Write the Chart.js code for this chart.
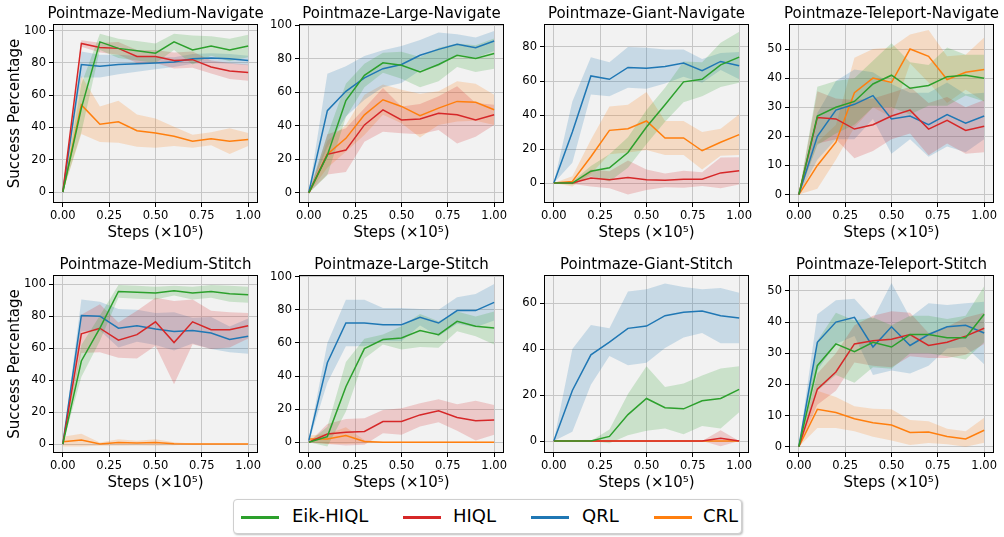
<!DOCTYPE html>
<html>
<head>
<meta charset="utf-8">
<script src="https://cdn.jsdelivr.net/npm/chart.js@4.4.1/dist/chart.umd.min.js"></script>
<style>
  body { margin: 0; background: #fff; font-family: "DejaVu Sans", sans-serif; }
  #wrap { position: relative; width: 1004px; height: 537px; overflow: hidden; }
  canvas { position: absolute; }
  #legend {
    position: absolute; left: 233px; top: 499px; width: 507px; height: 33px;
    border: 1px solid #cfcfcf; border-radius: 4px; background: #fff;
    box-shadow: 1px 1px 2px rgba(0,0,0,0.25);
  }
  .sw { position: absolute; top: 16px; width: 38px; height: 3px; }
  .lb { position: absolute; top: 4px; font-size: 18px; line-height: 24px; color: #000; }
</style>
</head>
<body>
<div id="wrap">
  <div id="legend"></div>
</div>
<script>
// x positions (steps x 1e5) and series
const steps = [0, 0.1, 0.2, 0.3, 0.4, 0.5, 0.6, 0.7, 0.8, 0.9, 1.0];
const methods = ['Eik-HIQL', 'HIQL', 'QRL', 'CRL'];
const lineColors = ['#2ca02c', '#d62728', '#1f77b4', '#ff7f0e'];
const bandColors = ['rgba(44,160,44,0.2)', 'rgba(214,39,40,0.2)', 'rgba(31,119,180,0.2)', 'rgba(255,127,14,0.2)'];
const xTicks = [0, 0.25, 0.5, 0.75, 1.0];

const titles = [
  'Pointmaze-Medium-Navigate', 'Pointmaze-Large-Navigate', 'Pointmaze-Giant-Navigate', 'Pointmaze-Teleport-Navigate',
  'Pointmaze-Medium-Stitch', 'Pointmaze-Large-Stitch', 'Pointmaze-Giant-Stitch', 'Pointmaze-Teleport-Stitch'
];

// rows: Eik-HIQL, HIQL, QRL, CRL
const medNavMean = [
  [0, 52, 93, 89, 87.5, 86, 93, 88, 90.5, 88, 90.5],
  [0, 92, 89.5, 89, 84, 84, 81.5, 82, 77.5, 75, 74],
  [0, 79, 78, 79, 79.5, 80, 80.5, 82.5, 83, 82.5, 81.5],
  [0, 54, 42, 43.5, 38, 36.5, 34.5, 31.5, 33, 31.5, 32.5]
];
const medNavSd = [
  [0, 15, 5, 6, 6, 6, 5, 9, 6, 7, 7],
  [0, 2, 3, 4, 4, 4, 5, 5, 4, 5, 5],
  [0, 8, 7, 6, 5, 4, 3, 3, 3, 3, 3],
  [0, 18, 11, 13, 10, 9, 6, 4, 4, 8, 4]
];

const largeNavMean = [
  [0, 22.5, 55, 70, 77.5, 76, 72, 76.5, 82, 80, 83],
  [0, 23, 25.5, 40.5, 49.5, 43.5, 44, 47.5, 46.5, 43.5, 46.5],
  [0.5, 49, 60.5, 68.5, 74, 76.5, 82, 85.5, 88.5, 86.5, 90.5],
  [0, 23, 32.5, 46.5, 55.5, 51.5, 46, 50.5, 54.5, 54, 49.5]
];
const largeNavSd = [
  [0, 12, 10, 7, 6, 8, 9, 10, 7, 8, 9],
  [0, 12, 13, 10, 13, 8, 9, 10, 17, 10, 6],
  [0, 22, 15, 13, 11, 11, 9, 10, 6, 6, 6],
  [0, 8, 8, 12, 9, 10, 13, 10, 12, 11, 9]
];

const giantNavMean = [
  [0, 0, 7, 9, 18, 33, 46, 59.5, 61, 69.5, 74],
  [0, 0, 3, 2, 3.3, 2, 1.6, 2.3, 2.3, 6, 7.2],
  [0, 30, 63, 61, 68, 67.5, 68.5, 70.5, 66, 71.5, 69],
  [0, 1, 15.5, 31, 32, 36.5, 26.5, 26.5, 19, 24, 28.5]
];
const giantNavSd = [
  [0, 1, 3, 8, 9, 10, 10, 12, 10, 13, 15],
  [0, 0.5, 5, 5, 10, 6, 4, 5, 4, 9, 8],
  [0, 18, 11, 10, 12, 12, 10, 8, 7, 5, 8],
  [0, 3, 10, 14, 14, 17, 10, 10, 11, 8, 12]
];

const teleNavMean = [
  [0, 27, 30, 32, 38, 41, 36.5, 37.5, 40.5, 41, 40],
  [0, 26.5, 26, 22.5, 24, 27, 29, 22.5, 25.5, 22, 23.5],
  [0, 20, 29, 31, 34, 26, 27, 24, 27.5, 24.5, 27],
  [0, 10, 18, 35, 40, 38.5, 50, 47.5, 39.5, 42, 43]
];
const teleNavSd = [
  [0, 10, 9, 8, 8, 11, 9, 7, 10, 7, 8],
  [0, 9, 7, 10, 9, 8, 8, 9, 8, 8, 9],
  [0, 8, 10, 12, 8, 12, 8, 11, 11, 10, 8],
  [0, 8, 6, 12, 10, 12, 5, 9, 8, 6, 11]
];

const medStitchMean = [
  [0, 52, 72.5, 95.5, 95, 94.5, 96, 94.5, 95.5, 94, 93.5],
  [0, 69, 72.5, 65, 68.5, 76.5, 63.5, 76.5, 71.5, 71.5, 74],
  [0, 80.5, 80, 72.5, 74, 72, 70.5, 71, 69.5, 65.5, 67.5],
  [1.5, 2.5, 0, 1, 0.6, 1, 0.2, 0, 0, 0, 0]
];
const medStitchSd = [
  [0, 10, 8, 4, 4, 4, 3, 4, 4, 5, 5],
  [0, 12, 15, 11, 15, 15, 26, 14, 12, 11, 8],
  [0, 10, 9, 12, 10, 10, 12, 8, 10, 8, 11],
  [3, 4, 1, 2, 1.5, 2, 1, 0.3, 0.3, 0.3, 0.3]
];

const largeStitchMean = [
  [0, 3.4, 33.5, 56.5, 62, 63, 67.5, 65, 73, 70, 69],
  [0, 5, 6, 6.5, 12.5, 12.5, 16.5, 19, 15, 13, 13.5],
  [1, 48, 72, 72, 71, 71, 75.5, 72, 79.5, 79.5, 84.5],
  [2, 2, 4, 0.4, 0, 0, 0, 0, 0, 0, 0]
];
const largeStitchSd = [
  [0, 6, 15, 6, 3, 7, 10, 8, 6, 6, 10],
  [0, 6, 8, 8, 7, 8, 7, 7, 8, 12, 9],
  [1, 12, 14, 14, 10, 10, 5, 8, 8, 10, 11],
  [2, 3, 5, 1, 0.3, 0.3, 0.3, 0.3, 0.5, 0.3, 0.3]
];

const giantStitchMean = [
  [0, 0, 0, 2, 11.5, 18.5, 14.5, 14, 17.5, 18.5, 22.5],
  [0, 0, 0, 0, 0, 0, 0, 0, 0, 1.2, 0],
  [0, 22, 37.5, 43, 49, 50, 54.5, 56, 56.5, 54.5, 53.5],
  [0, 0, 0, 0, 0, 0, 0, 0, 0, 0, 0]
];
const giantStitchSd = [
  [0, 0, 0, 3, 9, 14, 9, 11, 11, 13, 10],
  [0, 0, 0, 0, 0, 0, 0, 0, 0, 3.5, 0],
  [0, 18, 13, 6, 16, 16, 14, 11, 9.5, 12, 11],
  [0, 0, 0, 0, 0, 0, 0, 0, 0, 0, 0]
];

const teleStitchMean = [
  [0, 26, 33, 30.5, 33.5, 32, 36, 36, 35, 35, 42.5],
  [0, 18.5, 24, 33, 34, 34.5, 36, 32.5, 33.5, 35.5, 38],
  [0, 33.5, 40, 41.5, 32, 38.5, 32.5, 36, 38.5, 39, 36.5],
  [0, 12, 11, 9, 7.7, 7, 4.6, 4.7, 3.3, 2.5, 5.3]
];
const teleStitchSd = [
  [0, 8, 10, 10, 8, 7, 6, 6, 6, 7, 9],
  [0, 5, 6, 6, 8, 9, 7, 4, 5, 6, 5],
  [0, 9, 7, 6, 9, 14, 9, 10, 7, 7, 10],
  [0, 6, 5, 4, 4.5, 5, 4, 3.5, 2.5, 2.5, 4]
];

const yTicks100 = [0, 20, 40, 60, 80, 100];
const yTicks80 = [0, 20, 40, 60, 80];
const yTicks60 = [0, 20, 40, 60];
const yTicks50 = [0, 10, 20, 30, 40, 50];

const panels = [
  { mean: medNavMean, sd: medNavSd, ymin: -6.8, ymax: 104.1, ticks: yTicks100 },
  { mean: largeNavMean, sd: largeNavSd, ymin: -6, ymax: 100.6, ticks: yTicks100 },
  { mean: giantNavMean, sd: giantNavSd, ymin: -11.7, ymax: 93.5, ticks: yTicks80 },
  { mean: teleNavMean, sd: teleNavSd, ymin: -2.9, ymax: 58.6, ticks: yTicks50 },
  { mean: medStitchMean, sd: medStitchSd, ymin: -5.6, ymax: 105.8, ticks: yTicks100 },
  { mean: largeStitchMean, sd: largeStitchSd, ymin: -6.5, ymax: 101, ticks: yTicks100 },
  { mean: giantStitchMean, sd: giantStitchSd, ymin: -5.2, ymax: 72.2, ticks: yTicks60 },
  { mean: teleStitchMean, sd: teleStitchSd, ymin: -2, ymax: 55.1, ticks: yTicks50 }
];

// layout of the plot areas in the page
const colLeft = [53, 299, 544, 789];
const plotW = 205;
const rowTop = [24, 275];
const rowBottom = [203, 453];
const TITLE_H = 24, XAXIS_H = 42, PAD_R = 12;

// axes background, frame and panel title
const framePlugin = {
  id: 'frame',
  beforeDraw(chart) {
    const { ctx, chartArea: a } = chart;
    ctx.save();
    ctx.fillStyle = '#f2f2f2';
    ctx.fillRect(a.left, a.top, a.right - a.left, a.bottom - a.top);
    ctx.restore();
  },
  afterDraw(chart, args, opts) {
    const { ctx, chartArea: a } = chart;
    ctx.save();
    ctx.strokeStyle = '#000';
    ctx.lineWidth = 1;
    ctx.strokeRect(a.left + 0.5, a.top + 0.5, a.right - a.left - 1, a.bottom - a.top - 1);
    ctx.fillStyle = '#000';
    ctx.font = '15px "DejaVu Sans"';
    ctx.textAlign = 'center';
    ctx.textBaseline = 'alphabetic';
    ctx.fillText(opts.title, (a.left + a.right) / 2, a.top - 6);
    ctx.restore();
  }
};

const wrap = document.getElementById('wrap');

panels.forEach((p, i) => {
  const col = i % 4, row = Math.floor(i / 4);
  const yW = col === 0 ? 53 : 42;
  const canvas = document.createElement('canvas');
  canvas.width = yW + plotW + PAD_R;
  canvas.height = rowBottom[row] - rowTop[row] + TITLE_H + XAXIS_H;
  canvas.style.left = (colLeft[col] - yW) + 'px';
  canvas.style.top = (rowTop[row] - TITLE_H) + 'px';
  wrap.appendChild(canvas);

  const datasets = [];
  methods.forEach((m, k) => {
    datasets.push({
      label: m,
      data: steps.map((x, j) => ({ x, y: p.mean[k][j] })),
      borderColor: lineColors[k], borderWidth: 1.5,
      pointRadius: 0, fill: false, tension: 0, order: 0
    });
  });
  methods.forEach((m, k) => {
    datasets.push({
      label: m + ' upper',
      data: steps.map((x, j) => ({ x, y: p.mean[k][j] + p.sd[k][j] })),
      borderWidth: 0, pointRadius: 0, backgroundColor: bandColors[k],
      fill: '+1', order: 1
    });
    datasets.push({
      label: m + ' lower',
      data: steps.map((x, j) => ({ x, y: p.mean[k][j] - p.sd[k][j] })),
      borderWidth: 0, pointRadius: 0, fill: false, order: 1
    });
  });

  new Chart(canvas, {
    type: 'line',
    data: { datasets },
    plugins: [framePlugin],
    options: {
      responsive: false,
      animation: false,
      events: [],
      layout: { padding: { top: TITLE_H, right: PAD_R, left: 0, bottom: 0 } },
      plugins: {
        legend: { display: false },
        tooltip: { enabled: false },
        frame: { title: titles[i] }
      },
      scales: {
        x: {
          type: 'linear',
          min: -0.053, max: 1.053,
          afterBuildTicks: s => { s.ticks = xTicks.map(v => ({ value: v })); },
          afterFit: s => { s.height = XAXIS_H; },
          ticks: {
            callback: v => v.toFixed(2), autoSkip: false, maxRotation: 0,
            color: '#000', font: { family: 'DejaVu Sans', size: 11.5 }, padding: 2
          },
          grid: { color: '#c6c6c6', lineWidth: 1, tickColor: '#000', tickLength: 4 },
          border: { display: false },
          title: {
            display: true, text: 'Steps (×10⁵)', color: '#000',
            font: { family: 'DejaVu Sans', size: 15 }, padding: { top: 0, bottom: 3 }
          }
        },
        y: {
          type: 'linear',
          min: p.ymin, max: p.ymax,
          afterBuildTicks: s => { s.ticks = p.ticks.map(v => ({ value: v })); },
          afterFit: s => { s.width = yW; },
          ticks: {
            callback: v => String(v), color: '#000',
            font: { family: 'DejaVu Sans', size: 11.5 }, padding: 3
          },
          grid: { color: '#c6c6c6', lineWidth: 1, tickColor: '#000', tickLength: 4 },
          border: { display: false },
          title: {
            display: col === 0, text: 'Success Percentage', color: '#000',
            font: { family: 'DejaVu Sans', size: 15 }, padding: { top: 6, bottom: 0 }
          }
        }
      }
    }
  });
});

// shared legend
const legend = document.getElementById('legend');
const swX = [7, 169, 297, 420];
const lbX = [58, 219, 348, 469];
methods.forEach((m, k) => {
  const sw = document.createElement('div');
  sw.className = 'sw';
  sw.style.left = swX[k] + 'px';
  sw.style.background = lineColors[k];
  legend.appendChild(sw);
  const lb = document.createElement('div');
  lb.className = 'lb';
  lb.style.left = lbX[k] + 'px';
  lb.textContent = m;
  legend.appendChild(lb);
});
</script>
</body>
</html>
